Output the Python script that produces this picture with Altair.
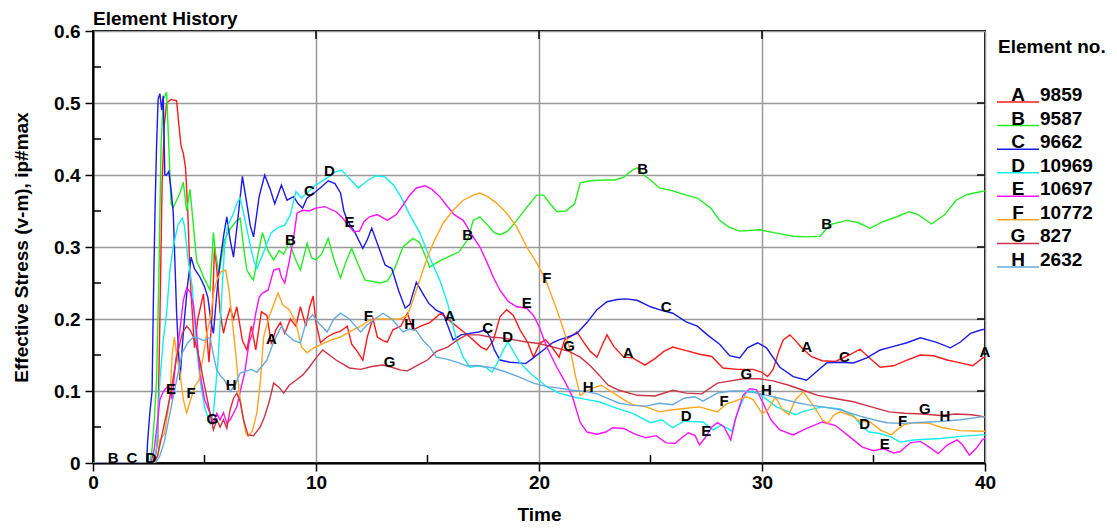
import altair as alt
import pandas as pd
import numpy as np

LETTERS = ["A", "B", "C", "D", "E", "F", "G", "H"]
ELEMENT_NO = ["9859", "9587", "9662", "10969", "10697", "10772", "827", "2632"]
COLORS = ["#ff1a1a", "#22ee22", "#1a1aee", "#11eeee", "#ff11ff", "#ffa520", "#cc3344", "#66aadd"]

X_TICKS = [0, 10, 20, 30, 40]
Y_TICKS = [0, 0.1, 0.2, 0.3, 0.4, 0.5, 0.6]
X_MINOR = [5, 15, 25, 35]
Y_MINOR = [0.05, 0.15, 0.25, 0.35, 0.45, 0.55]
TOP_TICKS = [10, 20, 30]

A = [(0, 0), (2.75, 0), (2.9, 0.03), (3.0, 0.2), (3.1, 0.39), (3.2, 0.47), (3.3, 0.5), (3.5, 0.505),
     (3.75, 0.503), (3.85, 0.47), (3.95, 0.44), (4.05, 0.43), (4.15, 0.41), (4.25, 0.35), (4.35, 0.26),
     (4.45, 0.21), (4.55, 0.16), (4.7, 0.2), (4.95, 0.235), (5.1, 0.18), (5.2, 0.14), (5.35, 0.21),
     (5.45, 0.30), (5.55, 0.27), (5.7, 0.21), (5.85, 0.18), (6.0, 0.2), (6.15, 0.215), (6.3, 0.2),
     (6.45, 0.217), (6.7, 0.17), (6.9, 0.157), (7.1, 0.19), (7.3, 0.157), (7.55, 0.21), (7.8, 0.205),
     (8.0, 0.165), (8.2, 0.185), (8.4, 0.195), (8.6, 0.18), (8.85, 0.2), (9.1, 0.19), (9.3, 0.217),
     (9.55, 0.19), (9.7, 0.215), (9.87, 0.232), (10.0, 0.195), (10.2, 0.167), (10.5, 0.175), (10.8, 0.18),
     (11.1, 0.183), (11.4, 0.19), (11.6, 0.165), (11.85, 0.155), (12.1, 0.143), (12.3, 0.175),
     (12.55, 0.201), (12.75, 0.175), (13.0, 0.17), (13.2, 0.168), (13.45, 0.185), (13.8, 0.19),
     (14.1, 0.208), (14.35, 0.185), (14.7, 0.19), (15.1, 0.195), (15.6, 0.208), (16.1, 0.195),
     (16.5, 0.185), (16.9, 0.175), (17.4, 0.161), (17.65, 0.157), (17.95, 0.17), (18.25, 0.203),
     (18.55, 0.213), (18.85, 0.205), (19.15, 0.185), (19.5, 0.167), (19.75, 0.147), (20.05, 0.167),
     (20.3, 0.171), (20.6, 0.16), (20.9, 0.147), (21.15, 0.171), (21.45, 0.176), (21.7, 0.182),
     (22.0, 0.168), (22.3, 0.155), (22.6, 0.147), (22.85, 0.165), (23.05, 0.178), (23.35, 0.162),
     (23.8, 0.147), (24.2, 0.146), (24.75, 0.136), (25.2, 0.145), (25.6, 0.155), (26.0, 0.161),
     (26.6, 0.156), (27.2, 0.151), (27.75, 0.148), (28.25, 0.132), (28.9, 0.13), (29.6, 0.13),
     (30.0, 0.126), (30.25, 0.12), (30.5, 0.13), (30.75, 0.155), (30.95, 0.171), (31.25, 0.178),
     (31.5, 0.17), (31.75, 0.161), (32.2, 0.148), (32.7, 0.142), (33.3, 0.141), (33.9, 0.15),
     (34.4, 0.158), (34.85, 0.145), (35.3, 0.133), (35.9, 0.135), (36.5, 0.143), (37.1, 0.15),
     (37.7, 0.149), (38.3, 0.143), (38.9, 0.139), (39.45, 0.135), (39.9, 0.146), (40, 0.147)]

B = [(0, 0), (2.55, 0), (2.65, 0.02), (2.75, 0.06), (2.85, 0.115), (2.95, 0.25), (3.05, 0.44),
     (3.15, 0.505), (3.3, 0.515), (3.4, 0.44), (3.5, 0.36), (3.6, 0.355), (3.75, 0.365), (3.9, 0.375),
     (4.05, 0.39), (4.2, 0.35), (4.35, 0.38), (4.5, 0.33), (4.65, 0.28), (4.8, 0.27), (5.0, 0.255),
     (5.25, 0.24), (5.4, 0.32), (5.5, 0.29), (5.65, 0.264), (5.9, 0.31), (6.15, 0.325), (6.45, 0.337),
     (6.6, 0.34), (6.75, 0.3), (6.9, 0.268), (7.05, 0.26), (7.2, 0.254), (7.4, 0.29), (7.6, 0.32),
     (7.85, 0.295), (8.1, 0.282), (8.35, 0.295), (8.55, 0.29), (8.8, 0.307), (9.05, 0.285), (9.3, 0.268),
     (9.6, 0.305), (9.8, 0.285), (10.0, 0.282), (10.25, 0.29), (10.55, 0.312), (10.8, 0.283),
     (11.1, 0.257), (11.35, 0.28), (11.6, 0.298), (11.9, 0.275), (12.2, 0.254), (12.55, 0.252),
     (12.9, 0.25), (13.2, 0.253), (13.5, 0.268), (13.9, 0.30), (14.35, 0.312), (14.65, 0.306),
     (14.9, 0.288), (15.1, 0.272), (15.5, 0.28), (15.9, 0.286), (16.4, 0.293), (16.8, 0.31),
     (17.05, 0.337), (17.35, 0.342), (17.7, 0.33), (18.0, 0.32), (18.25, 0.317), (18.6, 0.322),
     (19.0, 0.337), (19.45, 0.355), (19.9, 0.372), (20.2, 0.372), (20.5, 0.36), (20.8, 0.349),
     (21.2, 0.35), (21.6, 0.36), (21.85, 0.389), (22.3, 0.392), (22.9, 0.393), (23.4, 0.393),
     (23.8, 0.397), (24.2, 0.407), (24.4, 0.41), (24.7, 0.4), (25.0, 0.393), (25.4, 0.382), (26.0, 0.378),
     (26.6, 0.372), (27.1, 0.368), (27.7, 0.354), (28.1, 0.337), (28.5, 0.328), (29.0, 0.322),
     (29.9, 0.324), (30.7, 0.319), (31.4, 0.315), (32.0, 0.314), (32.6, 0.315), (33.05, 0.331),
     (33.8, 0.337), (34.3, 0.334), (34.85, 0.326), (35.4, 0.335), (36.05, 0.342), (36.6, 0.349),
     (37.0, 0.345), (37.6, 0.332), (38.2, 0.345), (38.7, 0.365), (39.2, 0.373), (39.85, 0.377),
     (40, 0.378)]

C = [(0, 0), (2.4, 0), (2.45, 0.03), (2.55, 0.07), (2.65, 0.1), (2.7, 0.21), (2.78, 0.35), (2.85, 0.44),
     (2.92, 0.505), (3.0, 0.513), (3.08, 0.49), (3.15, 0.51), (3.22, 0.40), (3.3, 0.4), (3.4, 0.405),
     (3.5, 0.38), (3.6, 0.347), (3.75, 0.208), (3.9, 0.115), (4.0, 0.16), (4.1, 0.2), (4.25, 0.25),
     (4.4, 0.286), (4.55, 0.27), (4.8, 0.258), (5.0, 0.245), (5.15, 0.23), (5.3, 0.195), (5.4, 0.18),
     (5.55, 0.235), (5.7, 0.28), (5.85, 0.314), (6.0, 0.342), (6.15, 0.31), (6.3, 0.286), (6.5, 0.34),
     (6.7, 0.398), (6.9, 0.36), (7.05, 0.33), (7.2, 0.314), (7.45, 0.37), (7.7, 0.40), (7.95, 0.38),
     (8.15, 0.36), (8.45, 0.386), (8.7, 0.365), (9.0, 0.37), (9.2, 0.36), (9.4, 0.354), (9.6, 0.368),
     (10.0, 0.377), (10.3, 0.385), (10.55, 0.392), (10.85, 0.388), (11.1, 0.375), (11.25, 0.35),
     (11.4, 0.337), (11.75, 0.32), (12.1, 0.298), (12.3, 0.31), (12.5, 0.326), (12.75, 0.305),
     (13.1, 0.275), (13.4, 0.27), (13.7, 0.24), (14.0, 0.215), (14.2, 0.22), (14.5, 0.251), (14.8, 0.235),
     (15.05, 0.222), (15.4, 0.212), (15.7, 0.208), (16.15, 0.171), (16.5, 0.178), (16.9, 0.18),
     (17.3, 0.182), (17.6, 0.185), (17.8, 0.175), (18.0, 0.157), (18.25, 0.143), (18.7, 0.14),
     (19.1, 0.139), (19.4, 0.138), (19.7, 0.145), (20.2, 0.157), (20.6, 0.167), (20.9, 0.171),
     (21.3, 0.175), (21.7, 0.18), (22.15, 0.195), (22.6, 0.213), (23.05, 0.224), (23.5, 0.227),
     (23.9, 0.228), (24.4, 0.226), (25.0, 0.217), (25.5, 0.212), (26.0, 0.208), (26.6, 0.196),
     (27.1, 0.19), (27.55, 0.178), (28.1, 0.165), (28.55, 0.149), (29.0, 0.146), (29.35, 0.16),
     (29.8, 0.167), (30.2, 0.16), (30.8, 0.133), (31.4, 0.12), (32.0, 0.115), (32.45, 0.127),
     (32.9, 0.139), (33.5, 0.14), (34.1, 0.139), (34.7, 0.146), (35.3, 0.157), (35.9, 0.162),
     (36.5, 0.167), (37.1, 0.174), (37.8, 0.168), (38.45, 0.16), (38.9, 0.168), (39.35, 0.18),
     (39.85, 0.185), (40, 0.186)]

D = [(0, 0), (2.7, 0), (2.85, 0.02), (3.0, 0.115), (3.15, 0.17), (3.3, 0.208), (3.45, 0.268), (3.6, 0.30),
     (3.8, 0.33), (4.0, 0.34), (4.1, 0.33), (4.25, 0.286), (4.45, 0.245), (4.55, 0.2), (4.65, 0.161),
     (4.8, 0.115), (5.0, 0.078), (5.25, 0.055), (5.4, 0.07), (5.6, 0.139), (5.75, 0.22), (5.9, 0.30),
     (6.05, 0.33), (6.3, 0.347), (6.45, 0.361), (6.6, 0.368), (6.8, 0.34), (7.0, 0.31), (7.2, 0.282),
     (7.35, 0.27), (7.55, 0.285), (7.8, 0.305), (8.0, 0.32), (8.3, 0.327), (8.6, 0.33), (8.85, 0.345),
     (9.1, 0.377), (9.35, 0.368), (9.6, 0.375), (9.85, 0.383), (10.2, 0.39), (10.55, 0.397),
     (10.85, 0.404), (11.15, 0.407), (11.5, 0.395), (11.9, 0.382), (12.3, 0.392), (12.7, 0.399),
     (13.1, 0.397), (13.5, 0.385), (13.8, 0.37), (14.2, 0.345), (14.65, 0.32), (15.1, 0.285),
     (15.55, 0.254), (15.9, 0.222), (16.3, 0.171), (16.6, 0.147), (16.9, 0.133), (17.3, 0.135),
     (17.6, 0.133), (17.9, 0.126), (18.15, 0.14), (18.4, 0.157), (18.6, 0.168), (18.85, 0.155),
     (19.15, 0.139), (19.6, 0.125), (20.35, 0.106), (20.9, 0.097), (21.5, 0.092), (22.15, 0.088),
     (22.7, 0.085), (23.3, 0.078), (24.2, 0.069), (25.0, 0.056), (25.5, 0.06), (26.0, 0.049),
     (26.5, 0.058), (27.35, 0.057), (27.8, 0.046), (28.2, 0.053), (28.65, 0.044), (28.9, 0.07),
     (29.3, 0.099), (29.6, 0.1), (29.9, 0.095), (30.65, 0.078), (31.5, 0.067), (31.9, 0.072),
     (32.7, 0.078), (33.5, 0.075), (34.1, 0.066), (34.5, 0.05), (34.8, 0.043), (35.3, 0.041),
     (35.8, 0.036), (36.2, 0.029), (36.8, 0.032), (37.4, 0.033), (38.0, 0.034), (38.9, 0.037),
     (39.85, 0.039), (40, 0.039)]

E = [(0, 0), (2.6, 0), (2.75, 0.02), (2.9, 0.06), (3.0, 0.088), (3.15, 0.099), (3.3, 0.105), (3.45, 0.105),
     (3.55, 0.088), (3.7, 0.139), (3.9, 0.185), (4.05, 0.226), (4.2, 0.243), (4.35, 0.238), (4.5, 0.22),
     (4.65, 0.18), (4.75, 0.14), (4.85, 0.115), (5.0, 0.088), (5.25, 0.069), (5.4, 0.055), (5.55, 0.069),
     (5.7, 0.06), (5.85, 0.07), (6.0, 0.055), (6.15, 0.06), (6.45, 0.078), (6.65, 0.106), (6.8, 0.125),
     (7.0, 0.167), (7.15, 0.18), (7.3, 0.208), (7.45, 0.23), (7.6, 0.236), (7.85, 0.24), (8.1, 0.268),
     (8.35, 0.27), (8.45, 0.258), (8.6, 0.25), (8.8, 0.28), (9.0, 0.314), (9.15, 0.347), (9.4, 0.351),
     (9.7, 0.35), (10.0, 0.354), (10.4, 0.356), (10.9, 0.349), (11.2, 0.34), (11.45, 0.33), (11.7, 0.321),
     (11.95, 0.322), (12.15, 0.335), (12.4, 0.342), (12.75, 0.345), (13.2, 0.337), (13.6, 0.345),
     (13.9, 0.358), (14.2, 0.372), (14.5, 0.382), (14.9, 0.385), (15.2, 0.38), (15.55, 0.37),
     (15.85, 0.358), (16.2, 0.345), (16.6, 0.337), (17.05, 0.314), (17.35, 0.30), (17.65, 0.28),
     (17.95, 0.258), (18.25, 0.24), (18.6, 0.225), (19.0, 0.217), (19.45, 0.215), (19.75, 0.205),
     (20.0, 0.19), (20.35, 0.161), (20.8, 0.133), (21.2, 0.111), (21.5, 0.092), (21.85, 0.056),
     (22.15, 0.043), (22.6, 0.04), (23.0, 0.043), (23.3, 0.049), (23.8, 0.048), (24.3, 0.04),
     (24.8, 0.035), (25.25, 0.038), (25.7, 0.028), (26.1, 0.027), (26.4, 0.035), (26.7, 0.042),
     (27.0, 0.038), (27.2, 0.025), (27.45, 0.035), (27.75, 0.05), (28.0, 0.056), (28.3, 0.05),
     (28.6, 0.032), (28.8, 0.06), (29.15, 0.094), (29.45, 0.103), (29.75, 0.102), (30.05, 0.083),
     (30.4, 0.06), (30.8, 0.046), (31.4, 0.039), (32.0, 0.048), (32.7, 0.057), (33.3, 0.052),
     (33.95, 0.036), (34.5, 0.022), (35.0, 0.017), (35.45, 0.02), (35.9, 0.014), (36.2, 0.016),
     (36.65, 0.028), (37.1, 0.03), (37.5, 0.022), (37.9, 0.013), (38.3, 0.025), (38.75, 0.032),
     (39.0, 0.025), (39.3, 0.011), (39.6, 0.02), (39.9, 0.033), (40, 0.034)]

F = [(0, 0), (2.75, 0), (2.9, 0.01), (3.0, 0.032), (3.2, 0.04), (3.35, 0.07), (3.45, 0.092), (3.55, 0.15),
     (3.65, 0.175), (3.75, 0.15), (3.9, 0.125), (4.05, 0.088), (4.2, 0.07), (4.4, 0.09), (4.55, 0.106),
     (4.75, 0.115), (4.95, 0.15), (5.1, 0.18), (5.25, 0.199), (5.4, 0.235), (5.55, 0.254), (5.75, 0.266),
     (5.95, 0.268), (6.1, 0.24), (6.25, 0.195), (6.4, 0.153), (6.55, 0.1), (6.7, 0.069), (6.85, 0.042),
     (6.95, 0.037), (7.15, 0.045), (7.35, 0.07), (7.5, 0.111), (7.65, 0.175), (7.9, 0.203), (8.1, 0.22),
     (8.3, 0.236), (8.5, 0.22), (8.8, 0.213), (9.1, 0.195), (9.35, 0.161), (9.6, 0.153), (9.9, 0.16),
     (10.2, 0.164), (10.6, 0.17), (11.1, 0.175), (11.5, 0.182), (12.0, 0.19), (12.4, 0.198), (12.8, 0.2),
     (13.3, 0.2), (13.75, 0.2), (14.1, 0.205), (14.35, 0.226), (14.65, 0.254), (14.95, 0.282),
     (15.25, 0.305), (15.7, 0.333), (16.15, 0.351), (16.6, 0.365), (17.05, 0.372), (17.35, 0.375),
     (17.7, 0.37), (18.1, 0.361), (18.55, 0.347), (19.0, 0.328), (19.45, 0.30), (19.9, 0.278),
     (20.3, 0.254), (20.8, 0.213), (21.1, 0.185), (21.4, 0.157), (21.65, 0.119), (21.85, 0.094),
     (22.15, 0.1), (22.4, 0.104), (22.8, 0.108), (23.3, 0.098), (23.8, 0.088), (24.2, 0.081),
     (24.8, 0.078), (25.4, 0.071), (26.0, 0.074), (26.6, 0.076), (27.2, 0.078), (28.0, 0.071),
     (28.4, 0.082), (28.7, 0.085), (29.3, 0.092), (29.6, 0.088), (30.0, 0.069), (30.25, 0.073),
     (30.6, 0.092), (30.9, 0.075), (31.2, 0.067), (31.5, 0.088), (31.85, 0.099), (32.3, 0.08),
     (32.7, 0.06), (32.95, 0.055), (33.2, 0.066), (33.5, 0.071), (34.0, 0.066), (34.4, 0.058),
     (34.85, 0.057), (35.3, 0.046), (35.8, 0.039), (36.05, 0.046), (36.35, 0.053), (36.8, 0.056),
     (37.5, 0.055), (38.1, 0.049), (38.9, 0.045), (39.85, 0.044), (40, 0.044)]

G = [(0, 0), (2.7, 0), (2.9, 0.01), (3.1, 0.04), (3.3, 0.069), (3.5, 0.1), (3.75, 0.147), (4.0, 0.18),
     (4.2, 0.19), (4.35, 0.185), (4.5, 0.175), (4.65, 0.161), (4.8, 0.14), (4.95, 0.115), (5.1, 0.092),
     (5.25, 0.069), (5.4, 0.046), (5.55, 0.06), (5.7, 0.05), (5.85, 0.06), (6.0, 0.048), (6.15, 0.074),
     (6.3, 0.09), (6.45, 0.097), (6.6, 0.085), (6.75, 0.06), (6.95, 0.039), (7.2, 0.038), (7.5, 0.05),
     (7.7, 0.065), (7.9, 0.085), (8.1, 0.111), (8.35, 0.105), (8.55, 0.097), (8.8, 0.108), (9.1, 0.115),
     (9.4, 0.122), (9.7, 0.133), (10.0, 0.146), (10.3, 0.157), (10.6, 0.15), (10.9, 0.143), (11.5, 0.132),
     (12.0, 0.13), (12.5, 0.134), (13.0, 0.136), (13.4, 0.133), (13.8, 0.129), (14.1, 0.128),
     (14.5, 0.135), (15.0, 0.143), (15.4, 0.155), (15.9, 0.161), (16.3, 0.17), (16.75, 0.178),
     (17.3, 0.178), (17.8, 0.175), (18.25, 0.174), (18.9, 0.171), (19.45, 0.168), (20.0, 0.166),
     (20.65, 0.161), (21.35, 0.155), (21.85, 0.147), (22.3, 0.135), (22.7, 0.122), (23.1, 0.108),
     (23.6, 0.101), (24.4, 0.094), (25.2, 0.093), (26.0, 0.101), (26.6, 0.097), (27.3, 0.096),
     (28.0, 0.111), (28.6, 0.114), (29.15, 0.117), (29.9, 0.117), (30.5, 0.114), (31.2, 0.108),
     (31.85, 0.101), (32.5, 0.094), (33.2, 0.09), (34.1, 0.085), (34.9, 0.078), (35.7, 0.071),
     (36.4, 0.069), (37.2, 0.068), (38.0, 0.066), (38.7, 0.068), (39.4, 0.067), (40, 0.064)]

H = [(0, 0), (2.8, 0), (3.0, 0.01), (3.2, 0.03), (3.45, 0.069), (3.75, 0.115), (4.0, 0.153), (4.25, 0.167),
     (4.5, 0.175), (4.75, 0.173), (4.95, 0.17), (5.1, 0.172), (5.25, 0.174), (5.4, 0.15), (5.55, 0.129),
     (5.7, 0.122), (5.9, 0.115), (6.15, 0.099), (6.4, 0.11), (6.6, 0.125), (6.9, 0.128), (7.1, 0.13),
     (7.35, 0.126), (7.6, 0.135), (7.8, 0.143), (8.0, 0.16), (8.25, 0.178), (8.45, 0.19), (8.7, 0.178),
     (9.0, 0.17), (9.3, 0.167), (9.55, 0.195), (9.85, 0.206), (10.1, 0.195), (10.5, 0.182), (10.8, 0.2),
     (11.1, 0.208), (11.5, 0.2), (12.0, 0.182), (12.3, 0.192), (12.6, 0.199), (13.0, 0.208), (13.4, 0.2),
     (13.9, 0.182), (14.2, 0.186), (14.5, 0.184), (14.8, 0.17), (15.1, 0.161), (15.4, 0.147),
     (15.9, 0.144), (16.3, 0.14), (16.75, 0.135), (17.3, 0.135), (17.95, 0.132), (18.55, 0.126),
     (19.15, 0.119), (19.75, 0.111), (20.35, 0.106), (20.9, 0.104), (21.5, 0.101), (22.15, 0.099),
     (22.6, 0.096), (23.05, 0.09), (23.6, 0.083), (24.2, 0.08), (24.8, 0.079), (25.4, 0.083),
     (26.0, 0.081), (26.5, 0.09), (27.0, 0.092), (27.35, 0.086), (28.0, 0.097), (28.6, 0.1),
     (29.15, 0.1), (29.8, 0.097), (30.5, 0.092), (31.4, 0.085), (32.0, 0.081), (32.7, 0.078),
     (33.5, 0.074), (34.4, 0.065), (35.0, 0.06), (35.6, 0.056), (36.3, 0.055), (36.8, 0.056),
     (37.5, 0.057), (38.1, 0.058), (38.9, 0.06), (39.85, 0.064), (40, 0.064)]

SERIES = {"A": A, "B": B, "C": C, "D": D, "E": E, "F": F, "G": G, "H": H}

# times at which the series letter is written on its curve
LABEL_T = {
    "A": [8.0, 16.0, 24.0, 32.0, 40.0],
    "B": [0.9, 8.85, 16.8, 24.65, 32.9],
    "C": [1.75, 9.7, 17.7, 25.7, 33.7],
    "D": [2.6, 10.6, 18.6, 26.6, 34.6],
    "E": [3.5, 11.5, 19.45, 27.5, 35.5],
    "F": [4.4, 12.35, 20.35, 28.3, 36.3],
    "G": [5.35, 13.3, 21.35, 29.3, 37.3],
    "H": [6.2, 14.2, 22.2, 30.2, 38.2],
}

rows = []
lab_rows = []
for s, pts in SERIES.items():
    ts = np.array([p[0] for p in pts])
    vs = np.array([p[1] for p in pts])
    for i, (t, v) in enumerate(pts):
        rows.append({"series": s, "t": t, "v": v, "i": i})
    for tl in LABEL_T[s]:
        lab_rows.append({"series": s, "t": tl, "v": float(np.interp(tl, ts, vs))})
df = pd.DataFrame(rows)
df_lab = pd.DataFrame(lab_rows)

W, HGT = 892, 432
FONT = "Liberation Sans"

xs = alt.Scale(domain=[0, 40], nice=False)
ys = alt.Scale(domain=[0, 0.6], nice=False)
color = alt.Color("series:N", scale=alt.Scale(domain=LETTERS, range=COLORS), legend=None)

lines = alt.Chart(df).mark_line(strokeWidth=1.4, clip=True).encode(
    x=alt.X("t:Q", scale=xs, axis=alt.Axis(
        values=X_TICKS, format="d", title="Time", grid=True, gridColor="#999999", gridWidth=1.5,
        tickSize=8, tickColor="black", tickWidth=1.5, domainColor="black", domainWidth=2,
        labelFlush=False, labelPadding=2, titlePadding=13, labelFontSize=19, titleFontSize=19)),
    y=alt.Y("v:Q", scale=ys, axis=alt.Axis(
        values=Y_TICKS, labelExpr="datum.value == 0 ? '0' : format(datum.value, '.1f')",
        title="Effective Stress (v-m), ip#max", grid=True, gridColor="#999999", gridWidth=1.5,
        tickSize=8, tickColor="black", tickWidth=1.5, domainColor="black", domainWidth=2,
        labelFlush=False, labelPadding=5, titlePadding=22, labelFontSize=19, titleFontSize=19)),
    color=color,
    order=alt.Order("i:Q"),
)

labels = alt.Chart(df_lab).mark_text(fontSize=15, fontWeight="bold", font=FONT, baseline="alphabetic",
                                     color="black").encode(
    x=alt.X("t:Q", scale=xs), y=alt.Y("v:Q", scale=ys), text="series:N")

tick_style = dict(color="black", strokeWidth=1.5)
y_minor = alt.Chart(pd.DataFrame({"v": Y_MINOR})).mark_rule(**tick_style).encode(
    y=alt.Y("v:Q", scale=ys), x=alt.value(0), x2=alt.value(8))
x_minor = alt.Chart(pd.DataFrame({"t": X_MINOR})).mark_rule(**tick_style).encode(
    x=alt.X("t:Q", scale=xs), y=alt.value(HGT), y2=alt.value(HGT - 8))
right_ticks = alt.Chart(pd.DataFrame({"v": Y_TICKS[1:-1]})).mark_rule(**tick_style).encode(
    y=alt.Y("v:Q", scale=ys), x=alt.value(W - 8), x2=alt.value(W))
top_ticks = alt.Chart(pd.DataFrame({"t": TOP_TICKS})).mark_rule(**tick_style).encode(
    x=alt.X("t:Q", scale=xs), y=alt.value(0), y2=alt.value(8))

plot = alt.layer(y_minor, x_minor, right_ticks, top_ticks, lines, labels)

leg_df = pd.DataFrame({"series": LETTERS, "num": ELEMENT_NO, "row": list(range(len(LETTERS)))})
leg_y = alt.Y("row:Q", scale=alt.Scale(domain=[0, 7], range=[64, 229], nice=False, zero=False), axis=None)
leg_title = alt.Chart(pd.DataFrame({"s": ["Element no."]})).mark_text(
    align="left", baseline="middle", fontSize=19, fontWeight="bold", font=FONT, color="black").encode(
    text="s:N", x=alt.value(905), y=alt.value(16))
leg_line = alt.Chart(leg_df).mark_rule(strokeWidth=1.5, yOffset=7).encode(
    y=leg_y, x=alt.value(904), x2=alt.value(946), color=color)
leg_letter = alt.Chart(leg_df).mark_text(
    align="center", baseline="middle", fontSize=19, fontWeight="bold", font=FONT, color="black").encode(
    y=leg_y, x=alt.value(925), text="series:N")
leg_num = alt.Chart(leg_df).mark_text(
    align="left", baseline="middle", fontSize=19, fontWeight="bold", font=FONT, color="black").encode(
    y=leg_y, x=alt.value(947), text="num:N")
legend = alt.layer(leg_title, leg_line, leg_letter, leg_num)

chart = alt.layer(plot, legend).resolve_scale(y="independent").properties(
    width=W, height=HGT,
    title=alt.TitleParams("Element History", anchor="start", frame="group", fontSize=19,
                          fontWeight="bold", font=FONT, color="black", offset=-7),
    padding={"left": 85, "top": 23, "right": 120, "bottom": 60},
    autosize=alt.AutoSizeParams(type="none"),
).configure_axis(
    labelFont=FONT, titleFont=FONT, labelFontWeight="bold", titleFontWeight="bold",
    labelColor="black", titleColor="black",
).configure_view(stroke="black", strokeWidth=2)

chart.save("out.html", embed_options={"renderer": "svg", "actions": False})
